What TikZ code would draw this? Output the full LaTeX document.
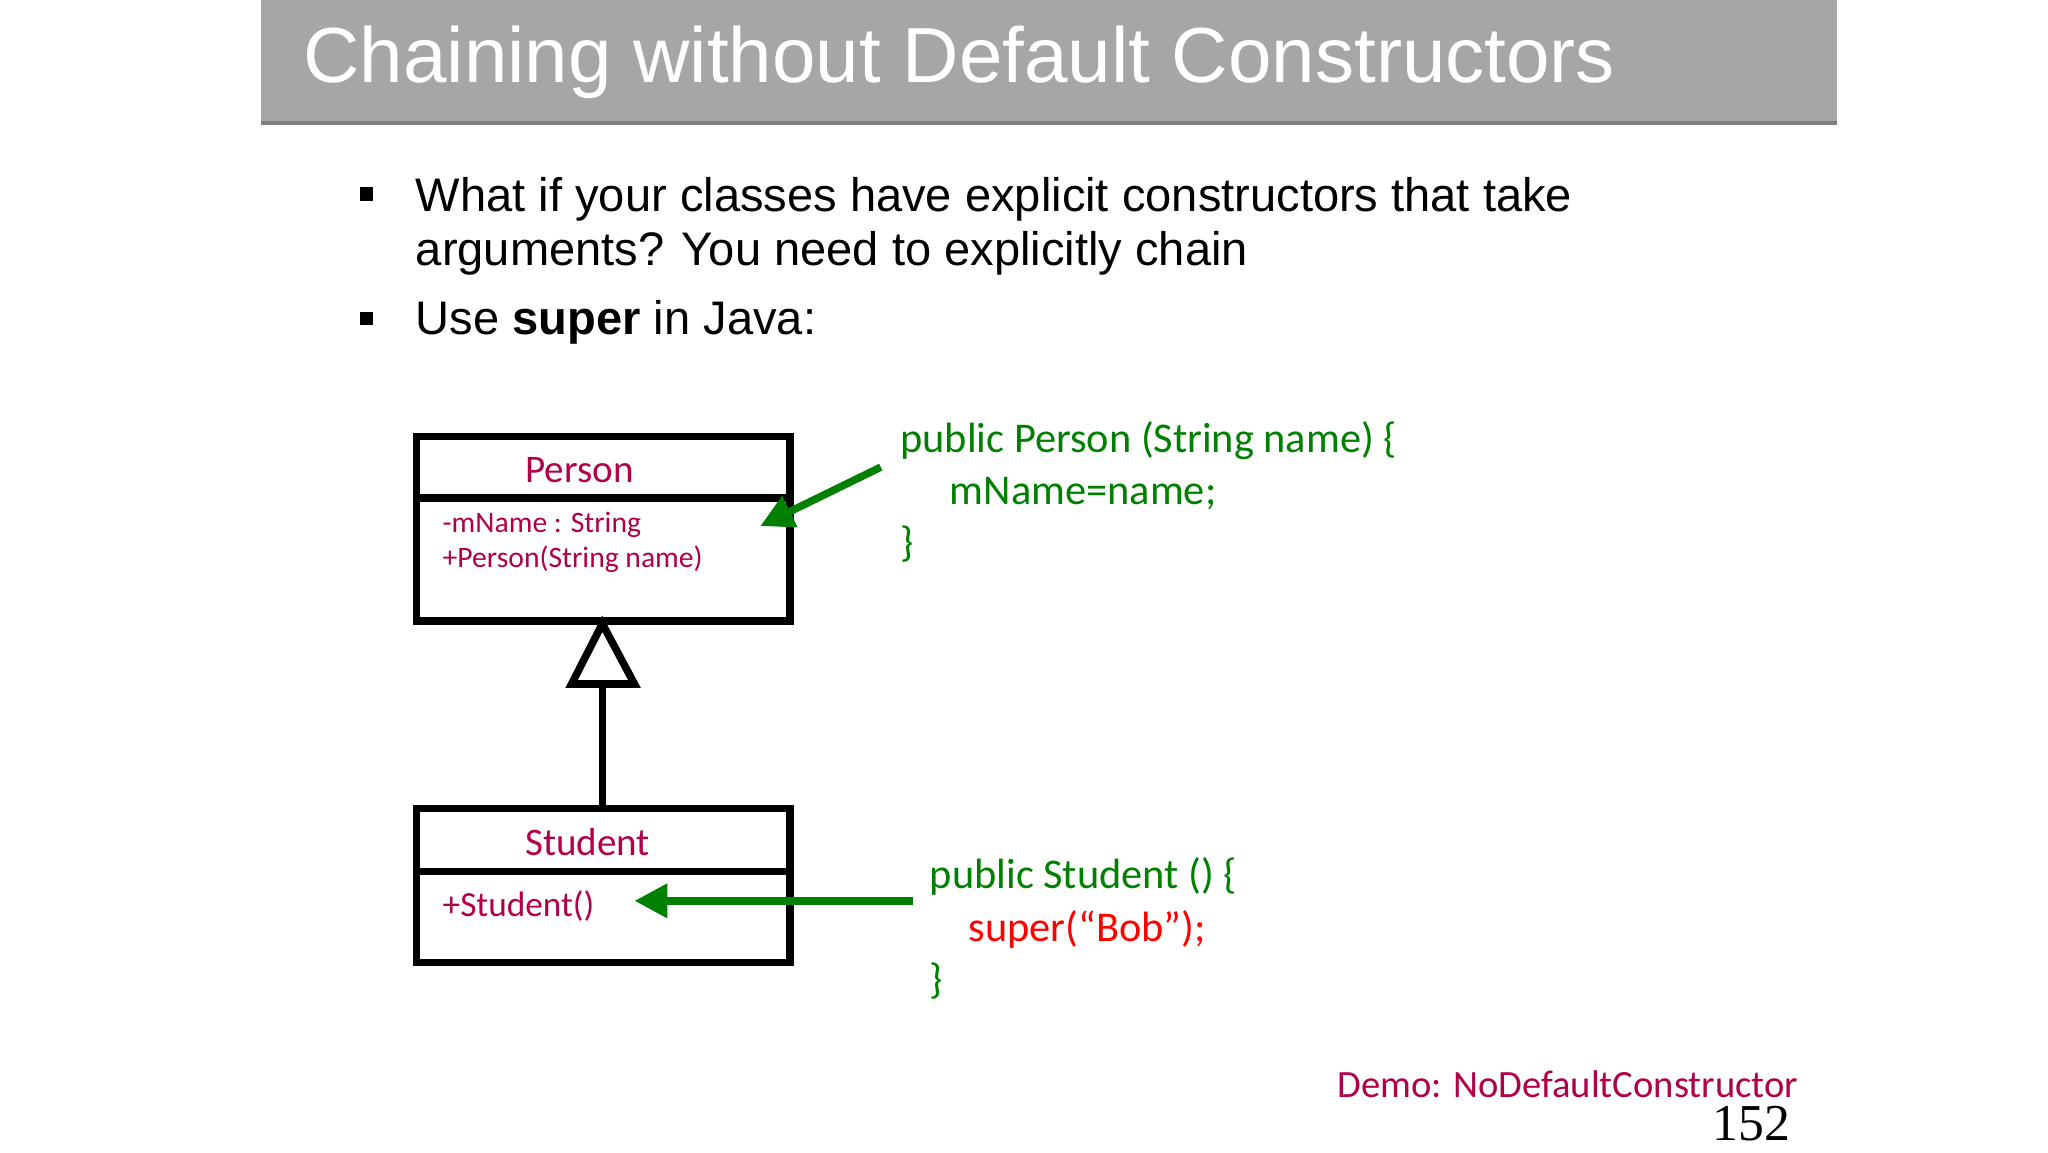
\documentclass[tikz,border=0pt]{standalone}
\usepackage{fontspec}
\setmainfont{Liberation Sans}
\newfontfamily\codefont{Carlito}
\newfontfamily\numfont{Liberation Serif}
\usetikzlibrary{arrows.meta,positioning}
\definecolor{titlegray}{RGB}{166,166,166}
\definecolor{umlred}{RGB}{176,0,72}
\definecolor{codegreen}{RGB}{0,128,0}
\definecolor{codered}{RGB}{255,0,0}
\begin{document}
\begin{tikzpicture}[x=0.01cm,y=-0.01cm,
    classbox/.style={draw, line width=1.6pt},
    umltext/.style={text=umlred, font=\codefont\fontsize{6.3}{8}\selectfont, inner sep=0pt},
    codetext/.style={text=codegreen, font=\codefont\fontsize{9}{11}\selectfont, anchor=base west, inner sep=0pt},
    bullettext/.style={font=\fontsize{10}{12}\selectfont, anchor=base west, inner sep=0pt},
    chainarrow/.style={draw=codegreen, line width=1.6pt, -{Triangle[length=7pt,width=7pt]}}
]
\useasboundingbox (0,0) rectangle (1530,861);
% title bar
\fill[titlegray] (195,0) rectangle (1372,92);
\draw[gray, line width=1pt] (195,92) -- (1372,92);
\node[anchor=base west, text=white, inner sep=0pt, font=\fontsize{16.6}{18}\selectfont] (title) at (226,62) {Chaining without Default Constructors};
% bullets
\fill (269,140) rectangle (279,150);
\fill (269,233) rectangle (279,243);
\node[bullettext] (b1) at (310,158) {What if your classes have explicit constructors that take};
\node[bullettext] (b1b) at (310,198) {arguments? You need to explicitly chain};
\node[bullettext] (b2) at (310,250) {Use \textbf{super} in Java:};
% classes
\draw[classbox] (311,326) rectangle (590,464);
\draw[classbox] (311,372) -- (590,372);
\node[umltext, font=\codefont\fontsize{8.3}{10}\selectfont] (person) at (433,351) {Person};
\node[umltext, anchor=west] (pattr) at (330,392) {-mName : String};
\node[umltext, anchor=west] (pctor) at (330,418) {+Person(String name)};
\draw[classbox] (311,604) rectangle (590,719);
\draw[classbox] (311,651) -- (590,651);
\node[umltext, font=\codefont\fontsize{8.3}{10}\selectfont] (student) at (439,629) {Student};
\node[umltext, anchor=west, font=\codefont\fontsize{7.5}{10}\selectfont] (sctor) at (330,677) {+Student()};
% inheritance
\coordinate (apex) at (450,466);
\coordinate (sbase) at (450,604);
\draw[line width=1.6pt] (sbase) -- (450,511);
\draw[line width=1.6pt, fill=white] (apex) -- (427,511) -- (474,511) -- cycle;
% code
\node[codetext] (c1) at (672,338) {public Person (String name) \{};
\node[codetext] (c2) at (709,377) {mName=name;};
\node[codetext] (c3) at (672,416) {\}};
\node[codetext] (d1) at (694,664) {public Student () \{};
\node[codetext, text=codered] (d2) at (723,703) {super(“Bob”);};
\node[codetext] (d3) at (694,742) {\}};
% arrows
\coordinate (a1s) at (658,349);
\coordinate (a1e) at (568,393);
\coordinate (a2s) at (682,673);
\coordinate (a2e) at (474,673);
\draw[chainarrow] (a1s) -- (a1e);
\draw[chainarrow] (a2s) -- (a2e);
% footer
\node[anchor=base east, inner sep=0pt, text=umlred, font=\codefont\fontsize{8.2}{10}\selectfont] (demo) at (1344,820) {Demo: NoDefaultConstructor};
\node[anchor=base east, inner sep=0pt, font=\numfont\fontsize{11}{12}\selectfont] (page) at (1338,852) {152};
\end{tikzpicture}
\end{document}
